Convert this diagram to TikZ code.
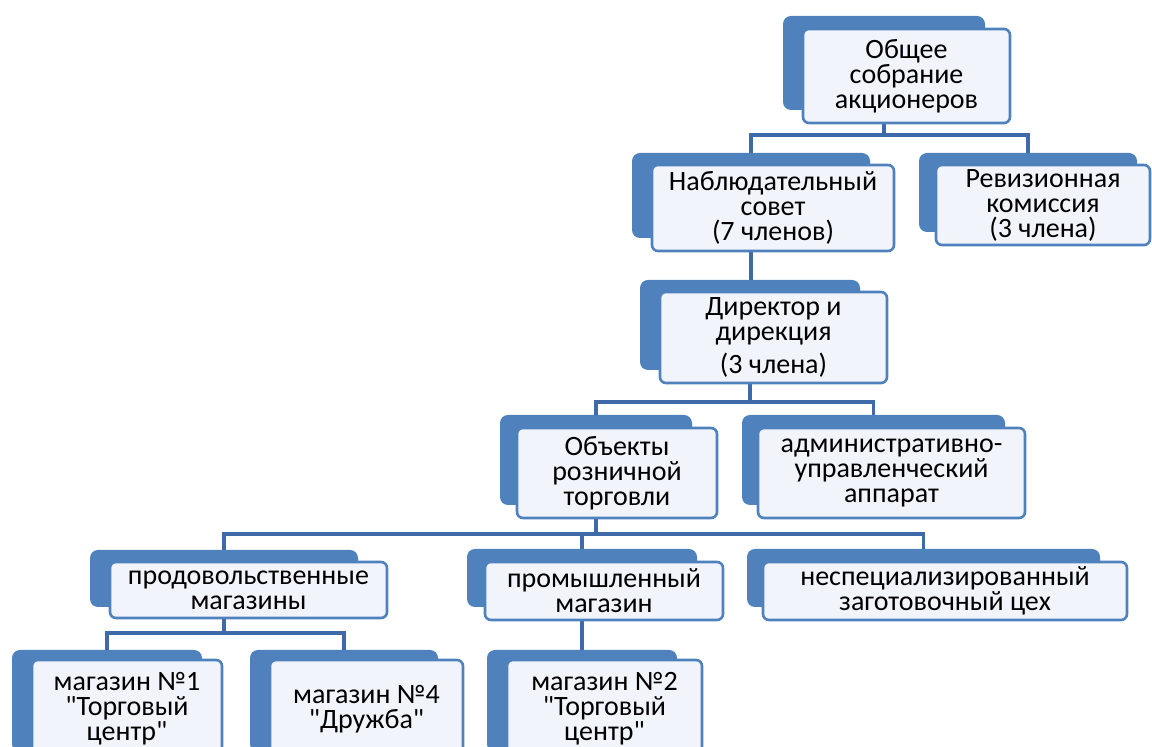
\documentclass[tikz,border=0pt]{standalone}
\usepackage{fontspec}
\setmainfont{Carlito}
\usetikzlibrary{backgrounds}
\definecolor{boxblue}{RGB}{79,129,189}
\definecolor{linkblue}{RGB}{62,106,170}
\definecolor{facewhite}{RGB}{241,244,250}
\tikzset{
  backbox/.style={draw=none, fill=boxblue, rounded corners=4pt, inner sep=0pt},
  facebox/.style={draw=boxblue, line width=1.3pt, fill=facewhite, rounded corners=3pt,
    inner sep=0pt, align=center, font=\fontsize{14}{12.5}\selectfont},
  link/.style={draw=linkblue, line width=1.6pt}
}
\begin{document}
\begin{tikzpicture}[x=0.5pt, y=-0.5pt]

\useasboundingbox (0,0) rectangle (1152,747);
\clip (0,0) rectangle (1152,747);

\node[backbox, minimum width=101pt, minimum height=47pt] (sobr-b) at (884,63) {};
\node[facebox, minimum width=103.5pt, minimum height=47pt] (sobr) at (906.5,76) {Общее\\собрание\\акционеров};

\node[backbox, minimum width=119pt, minimum height=42.5pt] (nabl-b) at (751,195.5) {};
\node[facebox, minimum width=121pt, minimum height=43pt] (nabl) at (773,208) {Наблюдательный\\совет\\(7 членов)};

\node[backbox, minimum width=109pt, minimum height=39.5pt] (rev-b) at (1028,192.5) {};
\node[facebox, minimum width=107pt, minimum height=40pt] (rev) at (1043,205) {Ревизионная\\комиссия\\(3 члена)};

\node[backbox, minimum width=110pt, minimum height=45pt] (dir-b) at (750,325) {};
\node[facebox, minimum width=113.5pt, minimum height=45.5pt] (dir) at (773.5,337.5) {Директор и\\дирекция\\[3pt](3 члена)};

\node[backbox, minimum width=96pt, minimum height=45pt] (obj-b) at (596,460) {};
\node[facebox, minimum width=100pt, minimum height=45pt] (obj) at (617,473) {Объекты\\розничной\\торговли};

\node[backbox, minimum width=131.5pt, minimum height=45pt] (adm-b) at (873.5,460) {};
\node[facebox, minimum width=133.5pt, minimum height=45pt] (adm) at (891.5,473) {административно-\\управленческий\\аппарат};

\node[backbox, minimum width=134pt, minimum height=28.5pt] (prod-b) at (224,578.5) {};
\node[facebox, minimum width=138.5pt, minimum height=28pt] (prod) at (248.5,590) {продовольственные\\магазины};

\node[backbox, minimum width=115pt, minimum height=29pt] (prom-b) at (582,578) {};
\node[facebox, minimum width=119pt, minimum height=29pt] (prom) at (604,591) {промышленный\\магазин};

\node[backbox, minimum width=176.5pt, minimum height=29pt] (nesp-b) at (923.5,578) {};
\node[facebox, minimum width=182pt, minimum height=29pt] (nesp) at (945,591) {неспециализированный\\заготовочный цех};

\node[backbox, minimum width=95pt, minimum height=51pt] (m1-b) at (107,701) {};
\node[facebox, minimum width=95pt, minimum height=49pt] (m1) at (127,709) {магазин №1\\\textquotedbl Торговый\\центр\textquotedbl};

\node[backbox, minimum width=94pt, minimum height=51pt] (m4-b) at (344,701) {};
\node[facebox, minimum width=96.5pt, minimum height=49pt] (m4) at (366.5,709) {магазин №4\\\textquotedbl Дружба\textquotedbl};

\node[backbox, minimum width=95pt, minimum height=51pt] (m2-b) at (582,701) {};
\node[facebox, minimum width=97.5pt, minimum height=49pt] (m2) at (604.5,709) {магазин №2\\\textquotedbl Торговый\\центр\textquotedbl};

\coordinate (bus1) at (884,135);
\coordinate (bus2) at (750,402);
\coordinate (bus3) at (596,534);
\coordinate (bus4) at (224,633);

\begin{pgfonlayer}{background}
\draw[link] (sobr-b.center) -- (bus1);
\draw[link] (nabl-b.center) |- (bus1) -| (rev-b.center);
\draw[link] (nabl-b.center) -- (nabl-b.center |- dir-b.center);
\draw[link] (dir-b.center) -- (bus2);
\draw[link] (obj-b.center) |- (bus2) -| (adm-b.center);
\draw[link] (obj-b.center) -- (bus3);
\draw[link] (prod-b.center) |- (bus3) -| (nesp-b.center);
\draw[link] (prom-b.center) -- (prom-b.center |- bus3);
\draw[link] (prod-b.center) -- (bus4);
\draw[link] (m1-b.center) |- (bus4) -| (m4-b.center);
\draw[link] (prom-b.center) -- (m2-b.center);
\end{pgfonlayer}

\end{tikzpicture}
\end{document}
